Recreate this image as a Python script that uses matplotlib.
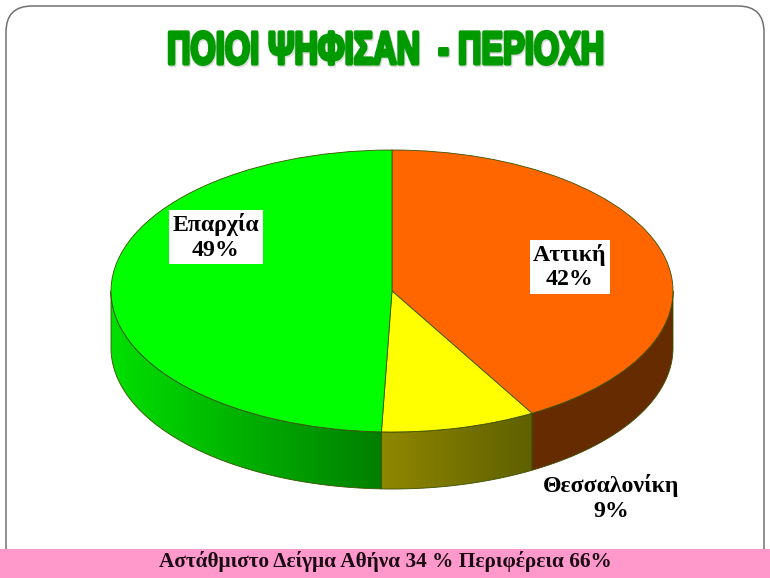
import numpy as np
import matplotlib
matplotlib.use("Agg")
import matplotlib.pyplot as plt
from matplotlib.patches import FancyBboxPatch, Rectangle, Polygon
import matplotlib.patheffects as pe

categories = ["Αττική", "Θεσσαλονίκη", "Επαρχία"]
labels_pct = [42, 9, 49]
slice_sizes = [41.7, 8.9, 49.4]
top_colors = ["#FF6600", "#FFFF00", "#00FF00"]
side_left = ["#662C00", "#8F8800", "#00E000"]
side_right = ["#662C00", "#5F6000", "#007F00"]
title_text = "ΠΟΙΟΙ ΨΗΦΙΣΑΝ  - ΠΕΡΙΟΧΗ"
footer_text = "Αστάθμιστο Δείγμα Αθήνα 34 % Περιφέρεια 66%"

W, H = 770, 578
SQUEEZE = 0.72


def squeeze_x(img, dpi):
    h, w = img.shape[:2]
    nw = max(1, int(round(w * SQUEEZE)))
    xs = np.linspace(0, w - 1, nw)
    i0 = np.floor(xs).astype(int)
    i1 = np.minimum(i0 + 1, w - 1)
    f = (xs - i0)[None, :, None]
    out = img[:, i0] * (1 - f) + img[:, i1] * f
    return out, (w - nw) / 2, 0


fig = plt.figure(figsize=(W / 100, H / 100), dpi=100, facecolor="white")
bg = fig.add_axes([0, 0, 1, 1], zorder=0)
bg.set_xlim(0, W); bg.set_ylim(H, 0); bg.axis("off")
bg.add_patch(FancyBboxPatch((6, 6), 758, 640, boxstyle="round,pad=0,rounding_size=26",
                            fc="white", ec="#707070", lw=1.1))
bg.add_patch(Rectangle((0, 549), W, 29, fc="#FF99CC", ec="none", zorder=3))

title = bg.text(385, 52, title_text, family="Liberation Sans", weight="bold", fontsize=32.5,
                color="#009A00", ha="center", va="center", zorder=4,
                path_effects=[pe.SimpleLineShadow(offset=(1.2, -1.2), linewidth=3.0,
                                                  shadow_color="#b0b0b0", alpha=.45),
                              pe.withStroke(linewidth=3.0, foreground="#009A00")])
title.set_agg_filter(squeeze_x)
bg.text(385, 562, footer_text, family="Liberation Serif", weight="bold", fontsize=15.35,
        color="#1a0a14", ha="center", va="center", zorder=4)

# pie axes: the unit circle is stretched into the ellipse; the rim hangs below it
cx, cy, rx, ry, depth = 392, 291, 281, 141, 57
ax = fig.add_axes([(cx - rx) / W, 1 - (cy + ry + depth) / H, 2 * rx / W, (2 * ry + depth) / H],
                  zorder=1)
d = depth / ry
EDGE = "#3c5000"
ax.pie(slice_sizes, colors=top_colors, startangle=90, counterclock=False, radius=1,
       wedgeprops=dict(edgecolor=EDGE, linewidth=.6, zorder=5))
ax.set_aspect("auto")
ax.patch.set_alpha(0)
for s in ax.patches:
    s.set_clip_on(False)

ends = 90 - np.cumsum([0] + slice_sizes) * 3.6 / (sum(slice_sizes) / 100)
for i in range(len(slice_sizes)):
    # visible part of each rim in degrees, going round the lower half (-180..0)
    lo, hi = max(ends[i + 1], -180), min(ends[i], 0)
    th = np.radians(np.linspace(lo, hi, 120))
    xs, ys = np.cos(th), np.sin(th)
    poly = Polygon(np.r_[np.c_[xs, ys], np.c_[xs[::-1], ys[::-1] - d]], closed=True,
                   fc="none", ec=EDGE, lw=.6, zorder=3, clip_on=False)
    ax.add_patch(poly)
    ramp = np.linspace(0, 1, 256)[:, None]
    rgb = (np.array(matplotlib.colors.to_rgb(side_left[i]))[None, :] * (1 - ramp)
           + np.array(matplotlib.colors.to_rgb(side_right[i]))[None, :] * ramp)
    im = ax.imshow(rgb[None, :, :], extent=(xs.min(), xs.max(), -1 - d, 1), aspect="auto",
                   zorder=2, interpolation="bilinear")
    im.set_clip_path(poly)
ax.set_xlim(-1, 1); ax.set_ylim(-1 - d, 1)
ax.axis("off")

top = fig.add_axes([0, 0, 1, 1], zorder=2)
top.set_xlim(0, W); top.set_ylim(H, 0); top.axis("off")
label_xy = [(570, 267), (611, 498), (216, 237)]
for n, v, (x, y), boxed in zip(categories, labels_pct, label_xy, [True, False, True]):
    bbox = dict(fc="white", ec="none", pad=2.5) if boxed else None
    top.text(x, y, f"{n}\n{v}%", family="Liberation Serif", weight="bold", fontsize=17.2,
             color="black", ha="center", va="center", linespacing=1.2, bbox=bbox)
fig.savefig("out.png", dpi=100)
